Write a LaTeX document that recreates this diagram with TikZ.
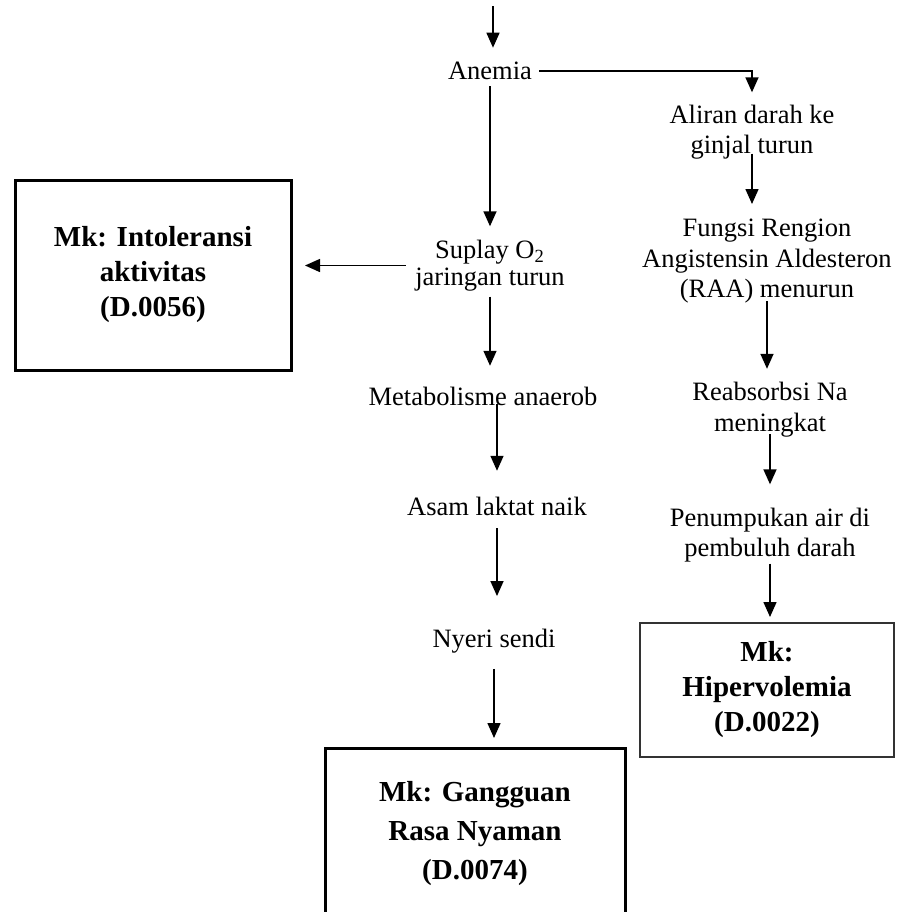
\documentclass[tikz,border=0pt]{standalone}
\usepackage{fontspec}
\setmainfont{Liberation Serif}
\usetikzlibrary{arrows.meta}

\begin{document}
\begin{tikzpicture}[x=0.5pt,y=-0.5pt]
      \useasboundingbox (0,0) rectangle (896,912);

      \begin{scope}[every node/.style={inner sep=0pt, align=center, font=\fontsize{13.25}{15.25}\selectfont}]
        \node (1) at (490,71)    {Anemia};
        \node (2) at (752,132)   {Aliran darah ke\\ginjal turun};
        \node (3) at (490,265.5) {Suplay O\textsubscript{2}\\[-1.5pt]jaringan turun};
        \node (4) at (767,261.5) {Fungsi Rengion\\Angistensin Aldesteron\\(RAA) menurun};
        \node (5) at (483,396.5) {Metabolisme anaerob};
        \node (6) at (770,409.5) {Reabsorbsi Na\\meningkat};
        \node (7) at (497,506.5) {Asam laktat naik};
        \node (8) at (770,535)   {Penumpukan air di\\pembuluh darah};
        \node (9) at (494,641.5) {Nyeri sendi};
      \end{scope}

      \begin{scope}[every node/.style={draw, align=center, inner sep=0pt, line width=1.5pt, font=\fontsize{14.5}{17.5}\selectfont\bfseries}]
        \node[minimum width=138pt, minimum height=95pt] (10) at (153,275) {Mk: Intoleransi\\aktivitas\\(D.0056)};
        \node[line width=1pt, draw=black!80, minimum width=127pt, minimum height=67pt] (11) at (767,690) {Mk:\\Hipervolemia\\(D.0022)};
        \node[minimum width=150pt, minimum height=86pt, font=\fontsize{14.5}{19.5}\selectfont\bfseries] (12) at (475,834) {Mk: Gangguan\\Rasa Nyaman\\(D.0074)};
      \end{scope}

      \coordinate (0) at (493,6);

      \begin{scope}[every edge/.style={draw, line width=0.75pt, -{Triangle[length=7.5pt,width=6.5pt]}}]
        \path (0)       edge[shorten >=7pt] (0 |- 1.north);
        \path (1.east)  edge[shorten <=3.5pt, shorten >=6pt, to path={-| (\tikztotarget)}] (2.north);
        \path (1.south) edge[shorten <=3pt, shorten >=6.5pt] (1.south |- 3.north);
        \path (3.west)  edge[shorten <=4.5pt, shorten >=6.25pt] (3.west -| 10.east);
        \path (3.south) edge[shorten <=2.5pt, shorten >=10.5pt] (3.south |- 5.north);
        \path (7.north |- 5.south) edge[shorten <=-1pt, shorten >=13pt] (7.north);
        \path (7.south) edge[shorten <=6pt, shorten >=16.5pt] (7.south |- 9.north);
        \path (9.south) edge[shorten <=7.5pt, shorten >=4.25pt] (9.south |- 12.north);
        \path (2.south) edge[shorten <=-3pt, shorten >=7.5pt] (2.south |- 4.north);
        \path (4.south) edge[shorten <=-1.5pt, shorten >=6.5pt] (4.south |- 6.north);
        \path (6.south) edge[shorten <=-1.5pt, shorten >=11.5pt] (6.south |- 8.north);
        \path (8.south) edge[shorten <=0.5pt, shorten >=2.5pt] (8.south |- 11.north);
      \end{scope}

    \end{tikzpicture}
\end{document}
